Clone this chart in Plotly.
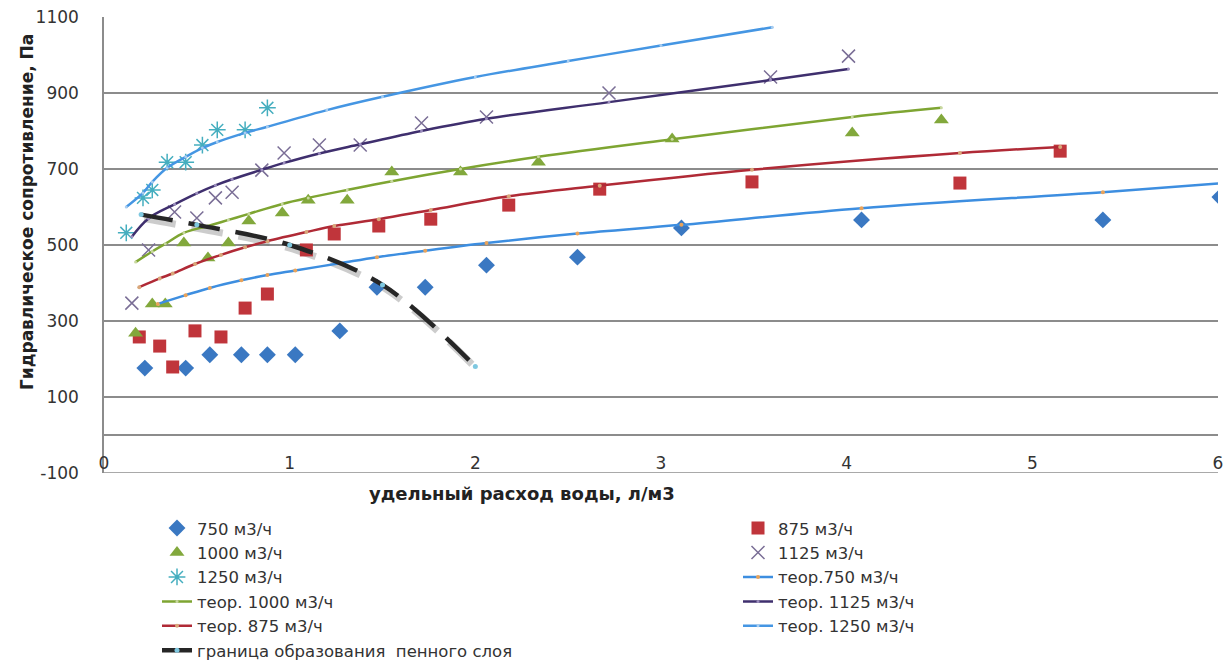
import plotly.graph_objects as go

# Experimental points: specific water flow (l/m3) vs hydraulic resistance (Pa)
x750 = [0.22, 0.44, 0.57, 0.74, 0.88, 1.03, 1.27, 1.47, 1.73, 2.06, 2.55, 3.11, 4.08, 5.38, 6.01]
y750 = [176, 176, 211, 211, 211, 211, 274, 389, 389, 447, 468, 545, 566, 566, 626]

x875 = [0.19, 0.30, 0.37, 0.49, 0.63, 0.76, 0.88, 1.09, 1.24, 1.48, 1.76, 2.18, 2.67, 3.49, 4.61, 5.15]
y875 = [258, 234, 179, 274, 258, 334, 371, 487, 529, 550, 568, 605, 647, 666, 663, 747]

x1000 = [0.17, 0.26, 0.33, 0.43, 0.56, 0.67, 0.78, 0.96, 1.10, 1.31, 1.55, 1.92, 2.34, 3.06, 4.03, 4.51]
y1000 = [268, 345, 345, 505, 466, 505, 563, 584, 618, 618, 692, 692, 718, 779, 795, 829]

x1125 = [0.15, 0.24, 0.38, 0.50, 0.60, 0.69, 0.85, 0.97, 1.16, 1.38, 1.71, 2.06, 2.72, 3.59, 4.01]
y1125 = [347, 487, 587, 571, 624, 639, 697, 742, 763, 763, 821, 837, 900, 942, 997]

x1250 = [0.12, 0.21, 0.26, 0.34, 0.44, 0.53, 0.61, 0.76, 0.88]
y1250 = [532, 624, 645, 718, 718, 763, 803, 803, 861]

# Theoretical curves
xt750 = [0.29, 0.44, 0.57, 0.74, 0.88, 1.03, 1.27, 1.47, 1.73, 2.06, 2.55, 3.11, 4.08, 5.38, 6.01]
yt750 = [345, 368, 387, 407, 421, 433, 452, 468, 485, 505, 530, 553, 597, 639, 662]

xt875 = [0.19, 0.30, 0.37, 0.49, 0.63, 0.76, 0.88, 1.09, 1.24, 1.48, 1.76, 2.18, 2.67, 3.49, 4.61, 5.15]
yt875 = [389, 412, 425, 450, 474, 494, 510, 534, 550, 568, 592, 628, 656, 698, 742, 758]

xt1000 = [0.17, 0.26, 0.33, 0.43, 0.56, 0.67, 0.78, 0.96, 1.10, 1.31, 1.55, 1.92, 2.34, 3.06, 4.03, 4.51]
yt1000 = [455, 483, 503, 532, 550, 566, 582, 608, 624, 645, 668, 700, 732, 778, 837, 861]

xt1125 = [0.15, 0.24, 0.38, 0.50, 0.60, 0.69, 0.85, 0.97, 1.16, 1.38, 1.71, 2.06, 2.72, 3.59, 4.01]
yt1125 = [522, 570, 607, 636, 657, 673, 698, 716, 741, 765, 800, 832, 876, 934, 963]

xt1250 = [0.12, 0.21, 0.26, 0.34, 0.44, 0.53, 0.61, 0.76, 0.88, 1.2, 1.5, 2.0, 2.5, 3.0, 3.6]
yt1250 = [600, 637, 666, 703, 732, 755, 771, 795, 811, 855, 890, 942, 984, 1025, 1073]

# Foam-layer formation boundary
xb = [0.2, 0.5, 1.0, 1.5, 2.0]
yb = [580, 553, 500, 395, 180]

x_ticks = [0, 1, 2, 3, 4, 5, 6]
y_ticks = [-100, 100, 300, 500, 700, 900, 1100]
y_tick_text = ["-100", "100", "300", "500", "700", "900", "1100"]

FONT = "DejaVu Sans"
GRID = "#8c8c8c"
TXT = "#333333"
W, H = 1227, 666
ML, MR, MT, MB = 104, 9, 17, 193
PW, PH = W - ML - MR, H - MT - MB
DASH = "32px,16px"

# base axes (x, y) carry only the boundary-line shadow, offset a few pixels
sx, sy = 3, 4
dx = sx * 6 / PW
dy = sy * 1200 / PH

fig = go.Figure()

fig.add_trace(go.Scatter(
    x=xb, y=yb, mode="lines", xaxis="x", yaxis="y",
    line=dict(color="rgba(110,110,110,0.35)", width=7, dash=DASH, shape="spline"),
    showlegend=False, hoverinfo="skip"))

col1 = dict(xaxis="x2", yaxis="y2", legend="legend")
col2 = dict(xaxis="x2", yaxis="y2", legend="legend2")

fig.add_trace(go.Scatter(x=x750, y=y750, mode="markers", name="750 м3/ч", **col1,
                         marker=dict(symbol="diamond", size=13, color="#3a78c2")))
fig.add_trace(go.Scatter(x=x875, y=y875, mode="markers", name="875 м3/ч", **col2,
                         marker=dict(symbol="square", size=13, color="#c0353b")))
fig.add_trace(go.Scatter(x=x1000, y=y1000, mode="markers", name="1000 м3/ч", **col1,
                         marker=dict(symbol="triangle-up", size=13, color="#82a83c")))
fig.add_trace(go.Scatter(x=x1125, y=y1125, mode="markers", name="1125 м3/ч", **col2,
                         marker=dict(symbol="x-thin-open", size=13, color="#7a6e96",
                                     line=dict(width=1.5, color="#7a6e96"))))
fig.add_trace(go.Scatter(x=x1250, y=y1250, mode="markers", name="1250 м3/ч", **col1,
                         marker=dict(symbol="asterisk-open", size=14, color="#45aebf",
                                     line=dict(width=1.5, color="#45aebf"))))

fig.add_trace(go.Scatter(x=xt750, y=yt750, mode="lines+markers", name="теор.750 м3/ч", **col2,
                         line=dict(color="#3d8ee0", width=2.5, shape="spline"),
                         marker=dict(size=4, color="#e9a35a")))
fig.add_trace(go.Scatter(x=xt1000, y=yt1000, mode="lines+markers", name="теор. 1000 м3/ч", **col1,
                         line=dict(color="#7ea532", width=2.5, shape="spline"),
                         marker=dict(size=3, color="#c9d8a0")))
fig.add_trace(go.Scatter(x=xt1125, y=yt1125, mode="lines+markers", name="теор. 1125 м3/ч", **col2,
                         line=dict(color="#3f2f6e", width=2.5, shape="spline"),
                         marker=dict(size=3, color="#9d8fbf")))
fig.add_trace(go.Scatter(x=xt875, y=yt875, mode="lines+markers", name="теор. 875 м3/ч", **col1,
                         line=dict(color="#b02a36", width=2.5, shape="spline"),
                         marker=dict(size=4, color="#d9a77a")))
fig.add_trace(go.Scatter(x=xt1250, y=yt1250, mode="lines+markers", name="теор. 1250 м3/ч", **col2,
                         line=dict(color="#4596e3", width=2.5, shape="spline"),
                         marker=dict(size=3, color="#a8cdf0")))

fig.add_trace(go.Scatter(x=xb, y=yb, mode="lines+markers",
                         name="граница образования  пенного слоя", **col1,
                         line=dict(color="#262626", width=4.5, dash=DASH, shape="spline"),
                         marker=dict(size=5, color="#7fc8e0")))

legend_style = dict(orientation="v", xanchor="left", y=-0.083, yanchor="top",
                    font=dict(family=FONT, size=16.5, color=TXT),
                    bgcolor="rgba(0,0,0,0)", traceorder="normal")

fig.update_layout(
    width=W, height=H,
    margin=dict(l=ML, r=MR, t=MT, b=MB, autoexpand=False),
    paper_bgcolor="white", plot_bgcolor="white",
    font=dict(family=FONT, size=17, color=TXT),
    xaxis=dict(range=[-dx, 6 - dx], visible=False, showgrid=False, zeroline=False),
    yaxis=dict(range=[-100 + dy, 1100 + dy], visible=False, showgrid=False, zeroline=False),
    xaxis2=dict(range=[0, 6], overlaying="x", tickvals=x_ticks, showgrid=False,
                zeroline=False, anchor="free", position=100 / 1200, showline=True,
                linecolor=GRID, linewidth=1.5, ticks="", ticklabelstandoff=13,
                tickfont=dict(family=FONT, size=17, color=TXT)),
    yaxis2=dict(range=[-100, 1100], overlaying="y", side="left", anchor="x2",
                tickvals=y_ticks, ticktext=y_tick_text, showgrid=True, gridcolor=GRID,
                gridwidth=1.5, zeroline=False, showline=True, linecolor=GRID,
                linewidth=1.5, ticks="", ticklabelstandoff=20,
                tickfont=dict(family=FONT, size=17, color=TXT)),
    legend=dict(x=(157 - ML) / PW, **legend_style),
    legend2=dict(x=(738 - ML) / PW, **legend_style),
    shapes=[dict(type="line", xref="paper", yref="y2", x0=0, x1=1, y0=-100, y1=-100,
                 line=dict(color=GRID, width=1.5), layer="below")],
    annotations=[
        dict(text="<b>удельный расход воды, л/м3</b>", x=(522 - ML) / PW, y=-0.045,
             xref="paper", yref="paper", showarrow=False, xanchor="center",
             yanchor="middle", font=dict(family=FONT, size=18, color="#222222")),
        dict(text="<b>Гидравлическое сопротивление, Па</b>", x=-(ML - 27) / PW,
             y=1 - (212 - MT) / PH, xref="paper", yref="paper", showarrow=False,
             textangle=-90, xanchor="center", yanchor="middle",
             font=dict(family=FONT, size=17, color="#222222")),
    ],
)

fig.write_html("out.html")
